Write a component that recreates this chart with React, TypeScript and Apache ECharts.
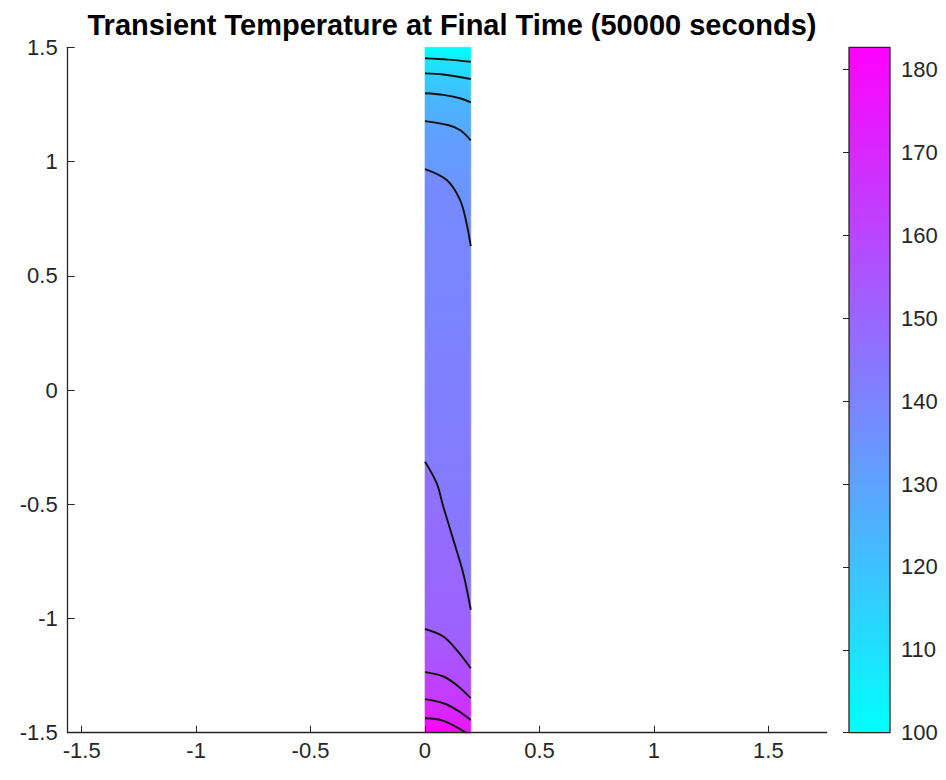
import React, { useEffect, useRef } from "react";
import * as echarts from "echarts";

// ---- data ----
const titleText = "Transient Temperature at Final Time (50000 seconds)";
const xTicks = [-1.5, -1, -0.5, 0, 0.5, 1, 1.5];
const yTicks = [-1.5, -1, -0.5, 0, 0.5, 1, 1.5];
const colorbarTicks = [100, 110, 120, 130, 140, 150, 160, 170, 180];
const xLimits = [-1.561, 1.755];
const yLimits = [-1.5, 1.5];
const tempLimits = [100, 182.7];
const stripX = [0, 0.2];

// contour levels (temperature) and the isotherm polylines [x, y]
const levels = [107.5, 115.0, 122.6, 130.1, 137.6, 145.1, 152.6, 160.1, 167.7, 175.2];
const iso1 = [[0, 1.452], [0.1, 1.446], [0.2, 1.437]];
const iso2 = [[0, 1.386], [0.08, 1.381], [0.2, 1.361]];
const iso3 = [[0, 1.299], [0.08, 1.292], [0.153, 1.277], [0.2, 1.259]];
const iso4 = [[0, 1.177], [0.1, 1.16], [0.153, 1.138], [0.2, 1.093]];
const iso5 = [[0, 0.967], [0.095, 0.919], [0.153, 0.832], [0.182, 0.728], [0.2, 0.63]];
const iso6 = [[0, -0.314], [0.051, -0.408], [0.08, -0.511], [0.124, -0.656], [0.167, -0.802], [0.2, -0.962]];
const iso7 = [[0, -1.046], [0.08, -1.079], [0.138, -1.138], [0.2, -1.218]];
const iso8 = [[0, -1.235], [0.08, -1.254], [0.138, -1.291], [0.2, -1.349]];
const iso9 = [[0, -1.353], [0.08, -1.371], [0.138, -1.4], [0.2, -1.444]];
const iso10 = [[0, -1.437], [0.08, -1.448], [0.18, -1.5]];
const isolines = [iso1, iso2, iso3, iso4, iso5, iso6, iso7, iso8, iso9, iso10];

const FONT = "'Liberation Sans', Arial, Helvetica, sans-serif";
const AX = "#262626";

// MATLAB "cool" colormap
function cool(t: number): string {
  let f = (t - tempLimits[0]) / (tempLimits[1] - tempLimits[0]);
  f = Math.max(0, Math.min(1, f));
  const r = Math.round(255 * f);
  const g = Math.round(255 * (1 - f));
  return `rgb(${r},${g},255)`;
}

// bands between consecutive boundaries
function buildBands() {
  const topEdge = [[stripX[0], yLimits[1]], [stripX[1], yLimits[1]]];
  const bottomEdge = [[stripX[0], yLimits[0]], [stripX[1], yLimits[0]]];
  const bounds = [topEdge, ...isolines, bottomEdge];
  const temps = [tempLimits[0], ...levels, tempLimits[1]];
  const bands: { poly: number[][]; tTop: number; tBottom: number }[] = [];
  for (let i = 0; i < bounds.length - 1; i++) {
    const up = bounds[i];
    const lo = bounds[i + 1];
    const poly: number[][] = [...up];
    const loLast = lo[lo.length - 1];
    if (loLast[0] < stripX[1]) poly.push([stripX[1], yLimits[0]]);
    for (let k = lo.length - 1; k >= 0; k--) poly.push(lo[k]);
    bands.push({ poly, tTop: temps[i], tBottom: temps[i + 1] });
  }
  return bands;
}

export default function App() {
  const ref = useRef<HTMLDivElement>(null);
  useEffect(() => {
    if (!ref.current) return;
    const chart = echarts.init(ref.current, undefined, { renderer: "svg" });
    const bands = buildBands();
    const labelStyle = { fontFamily: FONT, fontSize: 22, color: AX };
    const option: any = {
      animation: false,
      backgroundColor: "#fff",
      title: {
        text: titleText,
        left: 447,
        top: 5,
        textAlign: "center",
        textStyle: { fontFamily: FONT, fontSize: 29, fontWeight: "bold", color: "#000" },
      },
      grid: [
        { left: 67.7, top: 47.3, width: 759, height: 685.4, outerBoundsMode: "none" },
        { left: 849, top: 47.3, width: 41, height: 685.4, outerBoundsMode: "none" },
      ],
      xAxis: [
        {
          type: "value",
          min: xLimits[0],
          max: xLimits[1],
          z: 10,
          axisLine: { show: true, onZero: false, lineStyle: { color: AX, width: 1.3 } },
          axisTick: { show: true, inside: true, length: 7, customValues: xTicks, lineStyle: { color: AX } },
          axisLabel: { ...labelStyle, margin: 7, customValues: xTicks },
          splitLine: { show: false },
        },
        { gridIndex: 1, type: "value", min: 0, max: 1, show: false },
      ],
      yAxis: [
        {
          type: "value",
          min: yLimits[0],
          max: yLimits[1],
          z: 10,
          axisLine: { show: true, onZero: false, lineStyle: { color: AX, width: 1.3 } },
          axisTick: { show: true, inside: true, length: 7, customValues: yTicks, lineStyle: { color: AX } },
          axisLabel: { ...labelStyle, margin: 10, customValues: yTicks },
          splitLine: { show: false },
        },
        {
          gridIndex: 1,
          type: "value",
          min: tempLimits[0],
          max: tempLimits[1],
          position: "right",
          z: 10,
          axisLine: { show: false },
          axisTick: { show: true, inside: true, length: 6, customValues: colorbarTicks, lineStyle: { color: AX } },
          axisLabel: { ...labelStyle, margin: 11, customValues: colorbarTicks },
          splitLine: { show: false },
        },
      ],
      series: [
        {
          type: "custom",
          xAxisIndex: 0,
          yAxisIndex: 0,
          z: 1,
          silent: true,
          clip: false,
          data: bands.map((_, i) => [i]),
          renderItem: (params: any, api: any) => {
            const b = bands[params.dataIndex];
            const pts = b.poly.map((p) => api.coord(p));
            const grad = new echarts.graphic.LinearGradient(0, 0, 0, 1, [
              { offset: 0, color: cool(b.tTop) },
              { offset: 1, color: cool(b.tBottom) },
            ]);
            return {
              type: "polygon",
              shape: { points: pts },
              style: { fill: grad, stroke: grad, lineWidth: 0.6 },
            };
          },
        },
        ...isolines.map((iso, i) => ({
          type: "line",
          name: `T=${levels[i]}`,
          xAxisIndex: 0,
          yAxisIndex: 0,
          z: 3,
          silent: true,
          data: iso,
          symbol: "none",
          showSymbol: false,
          smooth: 0.35,
          lineStyle: { color: "#111", width: 1.9 },
        })),
        {
          type: "custom",
          xAxisIndex: 1,
          yAxisIndex: 1,
          z: 1,
          silent: true,
          data: [[0, tempLimits[0], 1, tempLimits[1]]],
          renderItem: (params: any, api: any) => {
            const p0 = api.coord([api.value(0), api.value(3)]);
            const p1 = api.coord([api.value(2), api.value(1)]);
            return {
              type: "rect",
              shape: { x: p0[0], y: p0[1], width: p1[0] - p0[0], height: p1[1] - p0[1] },
              style: {
                fill: new echarts.graphic.LinearGradient(0, 0, 0, 1, [
                  { offset: 0, color: cool(tempLimits[1]) },
                  { offset: 1, color: cool(tempLimits[0]) },
                ]),
                stroke: AX,
                lineWidth: 1.3,
              },
            };
          },
        },
      ],
    };
    chart.setOption(option);
    return () => chart.dispose();
  }, []);
  return (
    <div
      ref={ref}
      style={{ position: "absolute", left: 0, top: 0, width: 946, height: 780 }}
    />
  );
}
